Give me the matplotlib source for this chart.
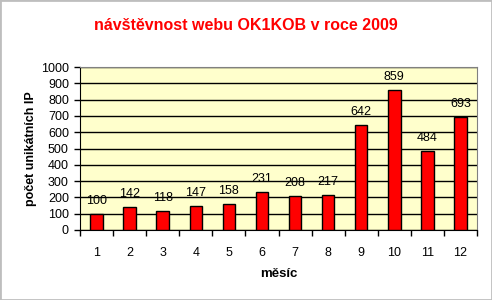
import matplotlib.pyplot as plt
from matplotlib.patches import Rectangle

months = [str(m) for m in range(1, 13)]
visits = [100, 142, 118, 147, 158, 231, 208, 217, 642, 859, 484, 693]
yticks = list(range(0, 1001, 100))

plt.rcParams['font.family'] = ['Liberation Sans', 'DejaVu Sans']

fig = plt.figure(figsize=(4.92, 3.0), dpi=100)
# gray frame around the whole chart
fig.patches.append(Rectangle((0, 0), 1, 1, transform=fig.transFigure,
                             fill=False, edgecolor='#BEBEBE', linewidth=2))

ax = fig.add_axes([80/492, 1 - 230/300, 397/492, 163/300])
ax.set_facecolor('#FFFFCC')

x = list(range(len(months)))
ax.bar(x, visits, width=0.38, color='#FF0000', edgecolor='black', linewidth=1, zorder=3)

for xi, v in zip(x, visits):
    ax.text(xi, v + 80, str(v), ha='center', va='center', fontsize=9, zorder=4)

ax.set_xlim(-0.5, len(months) - 0.5)
ax.set_ylim(0, 1000)
ax.set_yticks(yticks)
ax.yaxis.grid(True, color='black', linewidth=1, zorder=1)
ax.set_axisbelow(True)

# ticks between categories, labels centered
ax.set_xticks([i - 0.5 for i in range(len(months) + 1)])
ax.set_xticklabels([])
ax.set_xticks(x, minor=True)
ax.set_xticklabels(months, minor=True)
ax.tick_params(axis='x', which='minor', length=0, pad=12, labelsize=9)
ax.tick_params(axis='x', which='major', length=4, direction='out', width=1)
ax.tick_params(axis='y', length=4, direction='out', width=1, labelsize=9, pad=4)

for side in ['top', 'right']:
    ax.spines[side].set_color('#808080')
for side in ['left', 'bottom']:
    ax.spines[side].set_color('black')

ax.set_xlabel('měsíc', fontsize=9.5, fontweight='bold', labelpad=7)
ax.set_ylabel('počet unikátních IP', fontsize=9, fontweight='bold', labelpad=3)

fig.text(0.5, 1 - 25/300, 'návštěvnost webu OK1KOB v roce 2009', color='red',
         fontsize=11.5, fontweight='bold', ha='center', va='center')

fig.savefig('out.png', dpi=100)
